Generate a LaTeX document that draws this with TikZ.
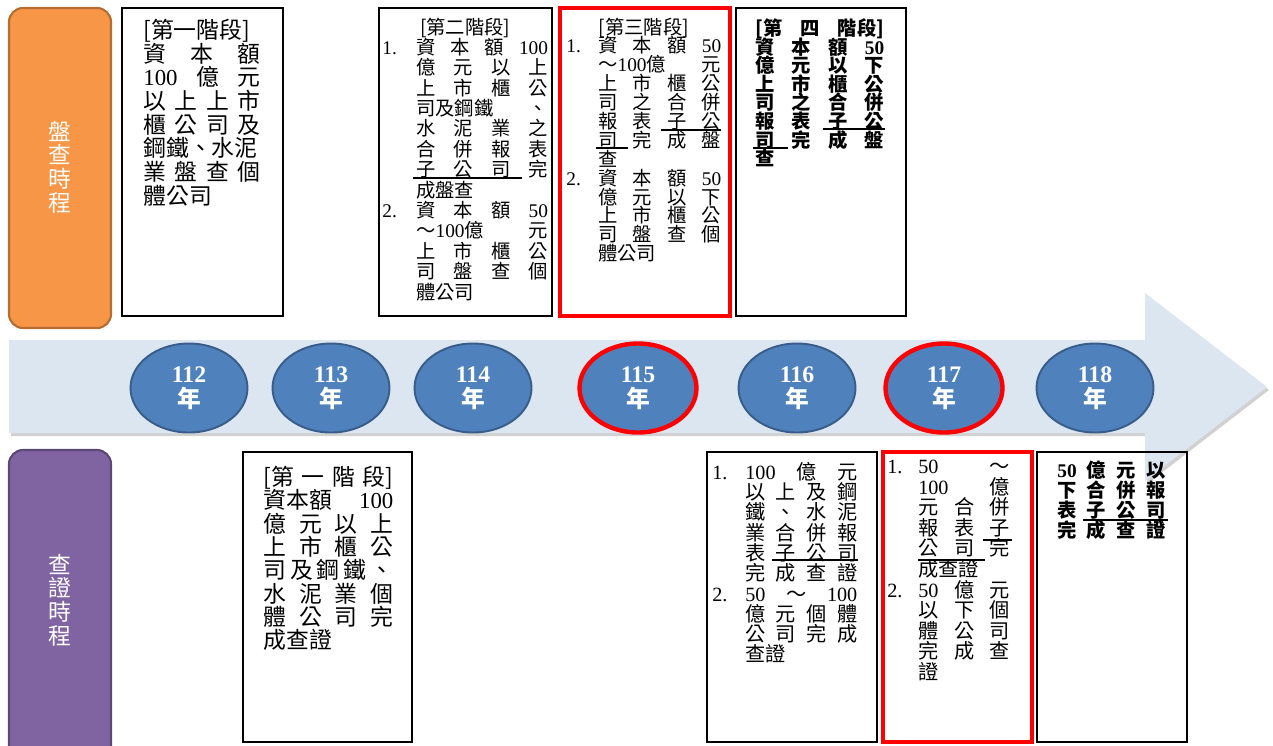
\documentclass[tikz,border=0pt]{standalone}
\usepackage{fontspec}
\setmainfont{Liberation Serif}
\newfontfamily\cjk{Noto Sans CJK TC}
\usepackage{xcolor}
\usepackage{tikz}
\usetikzlibrary{shapes.geometric}

\definecolor{labelorange}{HTML}{F79646}
\definecolor{orangeedge}{HTML}{B66D31}
\definecolor{labelpurple}{HTML}{8064A2}
\definecolor{purpleedge}{HTML}{5C4776}
\definecolor{bandblue}{HTML}{DCE6F1}
\definecolor{yearblue}{HTML}{4F81BD}
\definecolor{yearedge}{HTML}{385D8A}

\newlength{\colw}
\newlength{\numw}
\newcommand{\jline}[1]{\makebox[\colw][s]{#1}}
\newcommand{\pline}[1]{\makebox[\colw][l]{#1}}
\newcommand{\numb}[1]{\makebox[\numw][l]{\rmfamily #1}}
\newcommand{\ttl}[1]{\makebox[\dimexpr\numw+\colw\relax][c]{#1}}
\newcommand{\digs}[1]{{\rmfamily #1}}

\tikzset{
  stagetext/.style n args={5}{anchor=north west, inner sep=0pt, align=left,
    font={\cjk\fontsize{#1}{#2}\selectfont\lineskiplimit=-20pt\setlength{\numw}{#3}\setlength{\colw}{#4}#5}},
  stagebox/.style={draw=black, line width=1.4pt},
  keybox/.style={draw=red, line width=2pt},
  uline/.style={line width=0.8pt},
  year/.style={ellipse, fill=yearblue, draw=yearedge, line width=1.1pt, text=white,
    minimum width=2.34cm, minimum height=1.78cm, inner sep=0pt, align=center,
    font=\bfseries\fontsize{13.5}{14}\selectfont},
  keyyear/.style={year, draw=red, line width=2.5pt},
  sidelabel/.style={text=white, align=center, font=\cjk\fontsize{13}{13.5}\selectfont},
}

\begin{document}
\begin{tikzpicture}[x=0.02cm, y=-0.02cm]
  \useasboundingbox (0,0) rectangle (1273,745);

  \draw[rounded corners=8, fill=labelorange, draw=orangeedge, line width=1.2pt] (9,8) rectangle (111,328);
  \node[sidelabel] (pan) at (60,167) {盤\\查\\時\\程};
  \draw[rounded corners=8, fill=labelpurple, draw=purpleedge, line width=1.2pt] (9,450) rectangle (111,790);
  \node[sidelabel] (cha) at (60,600) {查\\證\\時\\程};

  \fill[black, opacity=0.18] (11,343) -- (1147,343) -- (1147,296) -- (1269,390) -- (1147,484) -- (1147,436) -- (11,436) -- cycle;
  \fill[bandblue] (9,340) -- (1145,340) -- (1145,293) -- (1267,387) -- (1145,481) -- (1145,433) -- (9,433) -- cycle;

  \node[year] (y112) at (189,388) {112\\{\cjk 年}};
  \node[year] (y113) at (331,388) {113\\{\cjk 年}};
  \node[year] (y114) at (473,388) {114\\{\cjk 年}};
  \node[keyyear] (y115) at (638,388) {115\\{\cjk 年}};
  \node[year] (y116) at (797,388) {116\\{\cjk 年}};
  \node[keyyear] (y117) at (944,388) {117\\{\cjk 年}};
  \node[year] (y118) at (1095,388) {118\\{\cjk 年}};

  \draw[stagebox] (122,8) rectangle (283,316);
  \node[stagetext={13}{13.5}{0pt}{66.6pt}{}] (p1) at (143,18.6) {%
    \pline{[第一階段]}\\
    \jline{資 本 額}\\
    \jline{\digs{100} 億 元}\\
    \jline{以 上 上 市}\\
    \jline{櫃 公 司 及}\\
    \jline{鋼鐵、水泥}\\
    \jline{業 盤 查 個}\\
    \pline{體公司}};

  \draw[stagebox] (379,8) rectangle (552,316);
  \node[stagetext={11}{11.6}{19.3pt}{75pt}{}] (p2) at (382,17.3) {%
    \ttl{[第二階段]}\\
    \numb{1.}\jline{資 本 額 \digs{100}}\\
    \numb{}\jline{億 元 以 上}\\
    \numb{}\jline{上 市 櫃 公}\\
    \numb{}\jline{司及鋼鐵 、}\\
    \numb{}\jline{水 泥 業 之}\\
    \numb{}\jline{合 併 報 表}\\
    \numb{}\jline{子 公 司 完}\\
    \numb{}\pline{成盤查}\\
    \numb{2.}\jline{資 本 額 \digs{50}}\\
    \numb{}\jline{～\digs{100}億 元}\\
    \numb{}\jline{上 市 櫃 公}\\
    \numb{}\jline{司 盤 查 個}\\
    \numb{}\pline{體公司}};
  \draw[uline] (413,178) -- (522,178);

  \draw[keybox] (560,8) rectangle (730,316);
  \node[stagetext={11}{10.75}{18.2pt}{70pt}{}] (p3) at (566,17.3) {%
    \ttl{[第三階段]}\\
    \numb{1.}\jline{資 本 額 \digs{50}}\\
    \numb{}\jline{～\digs{100}億 元}\\
    \numb{}\jline{上 市 櫃 公}\\
    \numb{}\jline{司 之 合 併}\\
    \numb{}\jline{報 表 子 公}\\
    \numb{}\jline{司 完 成 盤}\\
    \numb{}\pline{查}\\
    \numb{2.}\jline{資 本 額 \digs{50}}\\
    \numb{}\jline{億 元 以 下}\\
    \numb{}\jline{上 市 櫃 公}\\
    \numb{}\jline{司 盤 查 個}\\
    \numb{}\pline{體公司}};
  \draw[uline] (661,130) -- (721,130);
  \draw[uline] (596,148) -- (628,148);

  \draw[stagebox] (736,8) rectangle (906,316);
  \node[stagetext={11}{10.6}{0pt}{73.4pt}{\bfseries}] (p4) at (755,18.3) {%
    \jline{[第 四 階段]}\\
    \jline{資 本 額 \digs{50}}\\
    \jline{億 元 以 下}\\
    \jline{上 市 櫃 公}\\
    \jline{司 之 合 併}\\
    \jline{報 表 子 公}\\
    \jline{司 完 成 盤}\\
    \pline{查}};
  \draw[uline] (823,129) -- (885,129);
  \draw[uline] (753,148) -- (788,148);

  \draw[stagebox] (243,452) rectangle (412,742);
  \node[stagetext={13}{13.3}{0pt}{74pt}{}] (c1) at (263,465.6) {%
    \jline{[第 一 階 段]}\\
    \jline{資本額 \digs{100}}\\
    \jline{億 元 以 上}\\
    \jline{上 市 櫃 公}\\
    \jline{司 及 鋼 鐵 、}\\
    \jline{水 泥 業 個}\\
    \jline{體 公 司 完}\\
    \pline{成查證}};

  \draw[stagebox] (707,452) rectangle (877,742);
  \node[stagetext={11.5}{11.55}{18.8pt}{63.7pt}{}] (c2) at (712,461.9) {%
    \numb{1.}\jline{\digs{100} 億 元}\\
    \numb{}\jline{以 上 及 鋼}\\
    \numb{}\jline{鐵 、 水 泥}\\
    \numb{}\jline{業 合 併 報}\\
    \numb{}\jline{表 子 公 司}\\
    \numb{}\jline{完 成 查 證}\\
    \numb{2.}\jline{\digs{50} ～ \digs{100}}\\
    \numb{}\jline{億 元 個 體}\\
    \numb{}\jline{公 司 完 成}\\
    \numb{}\pline{查證}};
  \draw[uline] (772,560) -- (858,560);

  \draw[keybox] (883,452) rectangle (1032,742);
  \node[stagetext={11.5}{11.7}{17.6pt}{52.3pt}{}] (c3) at (887,459.9) {%
    \numb{1.}\jline{\digs{50} ～}\\
    \numb{}\jline{\digs{100} 億}\\
    \numb{}\jline{元 合 併}\\
    \numb{}\jline{報 表 子}\\
    \numb{}\jline{公 司 完}\\
    \numb{}\pline{成查證}\\
    \numb{2.}\jline{\digs{50} 億 元}\\
    \numb{}\jline{以 下 個}\\
    \numb{}\jline{體 公 司}\\
    \numb{}\jline{完 成 查}\\
    \numb{}\pline{證}};
  \draw[uline] (983,540) -- (1012,540);
  \draw[uline] (918,560) -- (985,560);

  \draw[stagebox] (1037,452) rectangle (1187,742);
  \node[stagetext={11}{11.4}{0pt}{61.5pt}{\bfseries}] (c4) at (1057,460.3) {%
    \jline{\digs{50} 億 元 以}\\
    \jline{下 合 併 報}\\
    \jline{表 子 公 司}\\
    \jline{完 成 查 證}};
  \draw[uline] (1083,520) -- (1168,520);
\end{tikzpicture}
\end{document}
